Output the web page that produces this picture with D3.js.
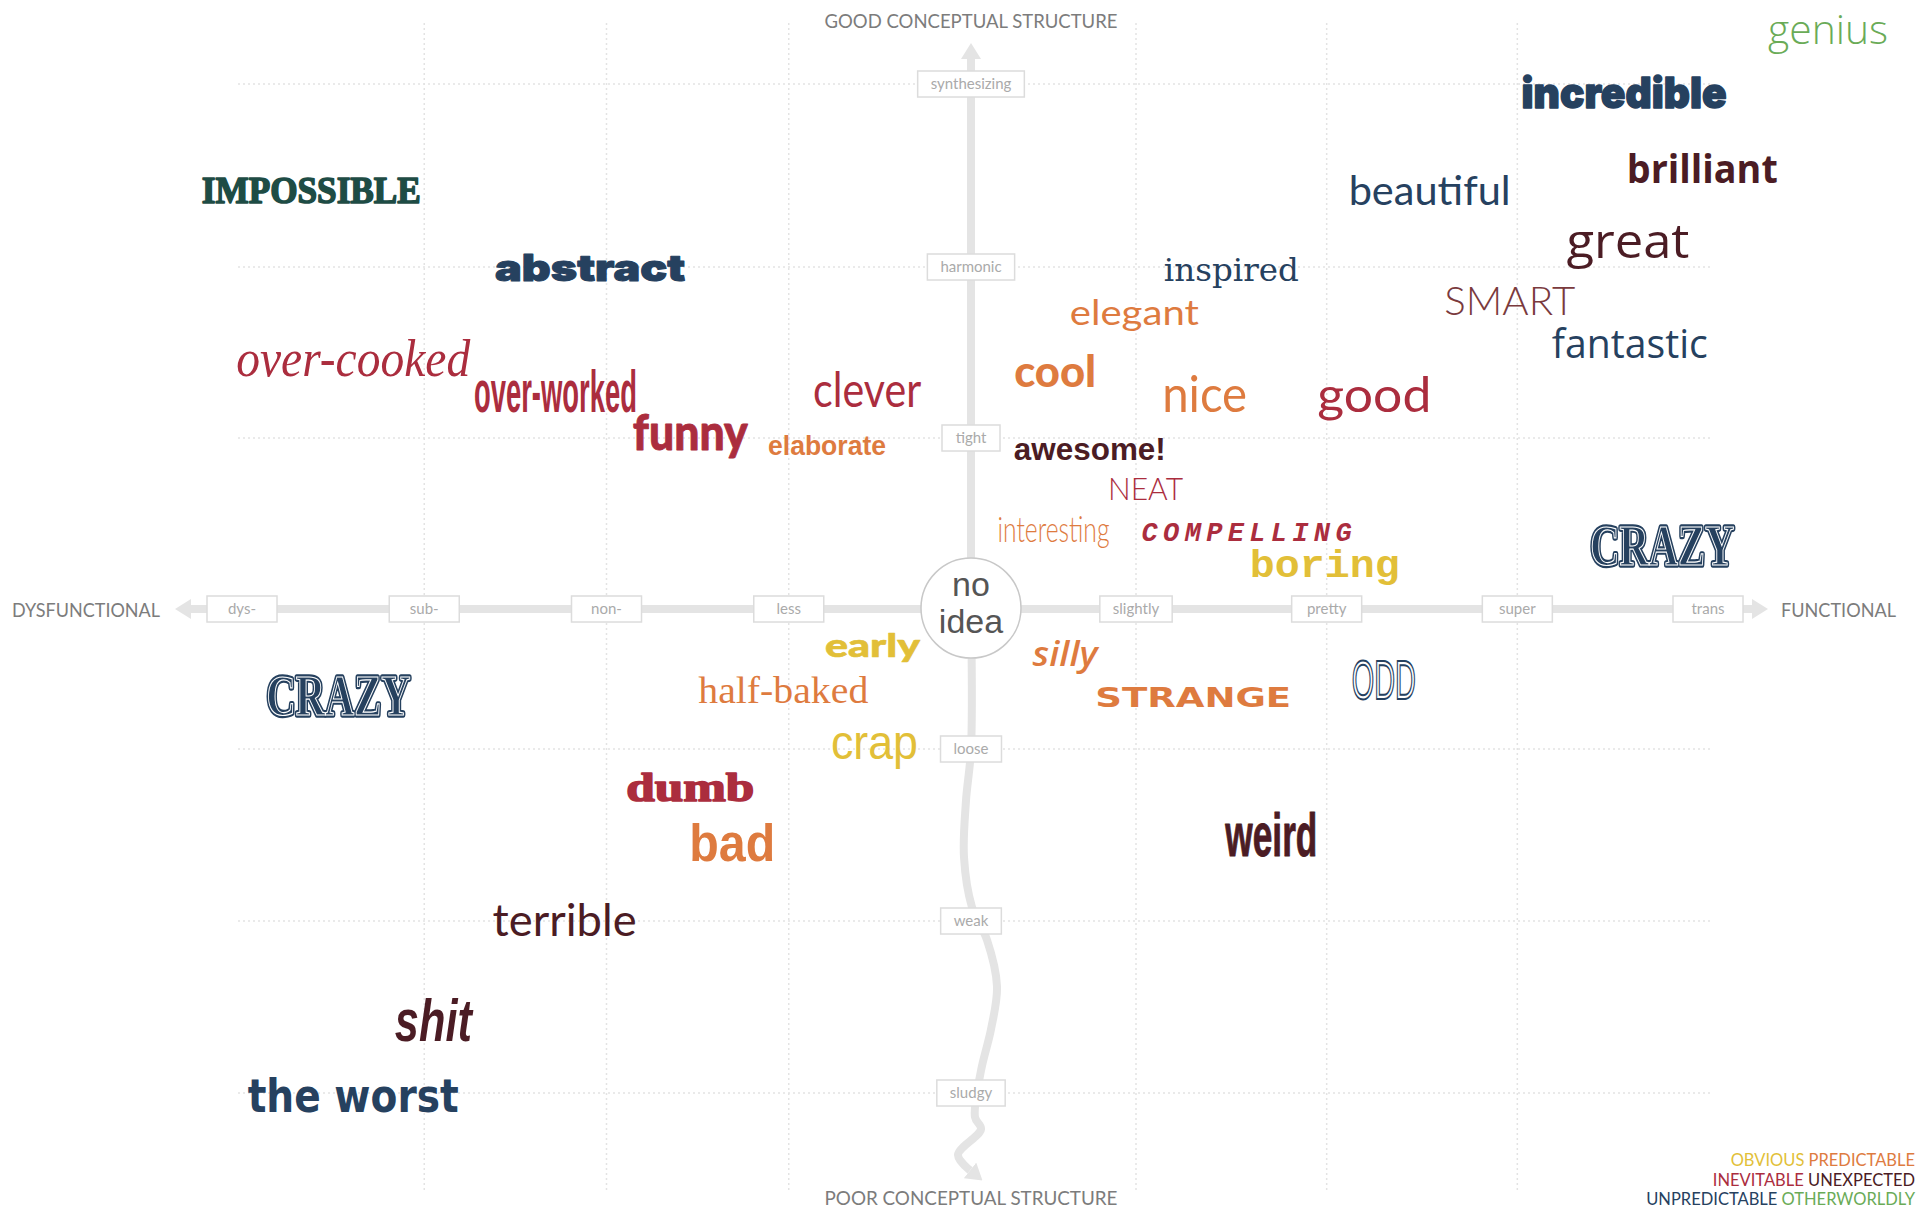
<!DOCTYPE html>
<html>
<head>
<meta charset="utf-8">
<script src="https://cdnjs.cloudflare.com/ajax/libs/d3/7.8.5/d3.min.js"></script>
<style>
  html, body { margin: 0; padding: 0; background: #fff; }
  svg { display: block; }
</style>
</head>
<body>
<svg id="chart"></svg>
<script>
/* ---------------------------------------------------
   Data
--------------------------------------------------- */

const words = ["genius", "incredible", "brilliant", "beautiful", "great", "SMART", "fantastic",
  "IMPOSSIBLE", "abstract", "inspired", "elegant", "over-cooked", "over-worked", "clever",
  "cool", "nice", "good", "funny", "elaborate", "awesome!", "NEAT", "interesting",
  "COMPELLING", "boring", "CRAZY", "CRAZY", "early", "silly", "half-baked", "STRANGE",
  "ODD", "crap", "dumb", "bad", "weird", "terrible", "shit", "the worst"];

// dysfunctional (-4) .. functional (+4)
const functionality = [4.63, 3.56, 3.97, 2.54, 3.58, 2.96, 3.59,
  -3.62, -2.09, 1.50, 0.99, -3.39, -2.28, -0.57,
  0.51, 1.36, 2.25, -1.54, -0.79, 0.72, 1.05, 0.50,
  1.58, 1.99, 3.76, -3.47, -0.54, 0.57, -1.03, 1.30,
  2.30, -0.53, -1.54, -1.31, 1.71, -2.23, -2.95, -3.39];

// poor (-3) .. good (+3) conceptual structure
const structure = [3.22, 2.87, 2.46, 2.34, 2.05, 1.72, 1.47,
  2.35, 1.92, 1.92, 1.66, 1.36, 1.15, 1.18,
  1.30, 1.15, 1.15, 0.93, 0.90, 0.87, 0.64, 0.39,
  0.40, 0.19, 0.26, -0.76, -0.34, -0.41, -0.67, -0.70,
  -0.64, -1.06, -1.30, -1.65, -1.62, -2.09, -2.70, -3.11];

const flavour = ["otherworldly", "unpredictable", "unexpected", "unpredictable", "unexpected", "unexpected", "unpredictable",
  "unpredictable", "unpredictable", "unpredictable", "predictable", "inevitable", "inevitable", "inevitable",
  "predictable", "predictable", "inevitable", "inevitable", "predictable", "unexpected", "inevitable", "predictable",
  "inevitable", "obvious", "unpredictable", "unpredictable", "obvious", "predictable", "predictable", "predictable",
  "unpredictable", "obvious", "inevitable", "predictable", "unexpected", "unexpected", "unexpected", "unpredictable"];

const flavours = ["obvious", "predictable", "inevitable", "unexpected", "unpredictable", "otherworldly"];
const legendRows = [["obvious", "predictable"], ["inevitable", "unexpected"], ["unpredictable", "otherworldly"]];

const xTickLabels = ["dys-", "sub-", "non-", "less", "slightly", "pretty", "super", "trans"];
const xTickValues = [-4, -3, -2, -1, 1, 2, 3, 4];
const yTickLabels = ["synthesizing", "harmonic", "tight", "loose", "weak", "sludgy"];
const yTickValues = [3, 2, 1, -1, -2, -3];

/* ---------------------------------------------------
   Styles
--------------------------------------------------- */

const colour = d3.scaleOrdinal()
  .domain(flavours)
  .range(["#e2bf38", "#de7b3f", "#ab2d3e", "#4b1c24", "#26415f", "#6aab57"]);

// every word has its own typeface in the original
const type = {
  "genius":      {font: "'Open Sans'", weight: 300, size: 40, width: 120},
  "incredible":  {font: "Inter, 'Liberation Sans'", weight: 900, size: 42, width: 205, heavy: 1.4},
  "brilliant":   {font: "'Open Sans'", weight: 700, size: 39, width: 151},
  "beautiful":   {font: "Lato", weight: 400, size: 41, width: 162},
  "great":       {font: "'Open Sans'", weight: 500, size: 48, width: 123},
  "SMART":       {font: "Lato", weight: 300, size: 40, width: 131, color: "#7a3a3d"},
  "fantastic":   {font: "'Open Sans'", weight: 400, size: 41, width: 156},
  "IMPOSSIBLE":  {font: "'Liberation Serif'", weight: 700, size: 38, width: 219, heavy: 1.6, color: "#1e4c45"},
  "abstract":    {font: "Inter, 'Liberation Sans'", weight: 900, size: 37, width: 190, heavy: 1},
  "inspired":    {font: "'DejaVu Serif'", weight: 400, size: 32, width: 135},
  "elegant":     {font: "Lato", weight: 400, size: 35, width: 129},
  "over-cooked": {font: "'Liberation Serif'", weight: 400, italic: true, size: 52, width: 234},
  "over-worked": {font: "'Liberation Sans Narrow', 'Liberation Sans'", weight: 700, size: 60, width: 163},
  "clever":      {font: "Lato", weight: 400, size: 48, width: 108},
  "cool":        {font: "Lato", weight: 900, size: 44, width: 82},
  "nice":        {font: "Lato", weight: 400, size: 50, width: 85},
  "good":        {font: "Lato", weight: 400, size: 48, width: 114},
  "funny":       {font: "Lato", weight: 900, size: 49, width: 115, heavy: 0.8},
  "elaborate":   {font: "'Liberation Sans'", weight: 700, size: 28, width: 118},
  "awesome!":    {font: "'Liberation Sans'", weight: 700, size: 31, width: 152},
  "NEAT":        {font: "Lato", weight: 300, size: 32, width: 75},
  "interesting": {font: "Lato", weight: 300, size: 36, width: 112},
  "COMPELLING":  {font: "'Liberation Mono'", weight: 700, italic: true, size: 27, width: 210, spread: true},
  "boring":      {font: "'Liberation Mono'", weight: 700, size: 38, width: 150},
  "CRAZY":       {font: "'Liberation Serif'", weight: 700, size: 58, width: 144, inline: true},
  "early":       {font: "Lato", weight: 900, size: 32, width: 95, heavy: 0.6},
  "silly":       {font: "'Open Sans'", weight: 600, italic: true, size: 35, width: 65},
  "half-baked":  {font: "'Liberation Serif'", weight: 400, size: 37, width: 170},
  "STRANGE":     {font: "'DejaVu Sans'", weight: 700, size: 26, width: 196},
  "ODD":         {font: "'Liberation Sans Narrow', 'Liberation Sans'", weight: 400, size: 56, width: 64, outline: true},
  "crap":        {font: "'Liberation Sans'", weight: 400, size: 48, width: 87},
  "dumb":        {font: "'Liberation Serif'", weight: 700, size: 40, width: 128, heavy: 1.6},
  "bad":         {font: "'Liberation Sans'", weight: 700, size: 51, width: 86},
  "weird":       {font: "'Liberation Sans Narrow', 'Liberation Sans'", weight: 700, size: 62, width: 92, heavy: 1},
  "terrible":    {font: "Lato", weight: 400, size: 44, width: 144},
  "shit":        {font: "'Liberation Sans'", weight: 700, italic: true, size: 60, width: 77},
  "the worst":   {font: "'DejaVu Sans'", weight: 700, size: 46, width: 211}
};

const axisGrey = "#e4e4e4";
const gridGrey = "#e3e3e3";

/* ---------------------------------------------------
   Setup
--------------------------------------------------- */

const width = 1921;
const height = 1211;

const svg = d3.select("#chart")
  .attr("width", width)
  .attr("height", height);

const x = d3.scaleLinear()
  .domain([-4, 0, 1, 4])
  .range([242, 971, 1136, 1708]);

const y = d3.scaleLinear()
  .domain([3, 2, 0, -1, -3])
  .range([84, 267, 609, 749, 1093]);

svg.append("defs").append("marker")
  .attr("id", "arrow")
  .attr("viewBox", "0 -10 16 20")
  .attr("refX", 0)
  .attr("refY", 0)
  .attr("markerWidth", 16)
  .attr("markerHeight", 20)
  .attr("markerUnits", "userSpaceOnUse")
  .attr("orient", "auto-start-reverse")
  .append("path")
  .attr("d", "M0,-10L16,0L0,10Z")
  .attr("fill", axisGrey);

/* ---------------------------------------------------
   Grid
--------------------------------------------------- */

const grid = svg.append("g")
  .attr("stroke", gridGrey)
  .attr("stroke-width", 1.5)
  .attr("stroke-dasharray", "2,3");

grid.selectAll("line.v")
  .data(xTickValues.filter(v => Math.abs(v) < 4))
  .join("line")
  .attr("class", "v")
  .attr("x1", d => x(d)).attr("x2", d => x(d))
  .attr("y1", 23).attr("y2", 1193);

grid.selectAll("line.h")
  .data(yTickValues)
  .join("line")
  .attr("class", "h")
  .attr("x1", x(-4) - 4).attr("x2", x(4) + 2)
  .attr("y1", d => y(d)).attr("y2", d => y(d));

/* ---------------------------------------------------
   Axes
--------------------------------------------------- */

const axes = svg.append("g")
  .attr("stroke", axisGrey)
  .attr("stroke-width", 8)
  .attr("fill", "none");

axes.append("line")
  .attr("x1", x(-4) - 51).attr("x2", x(4) + 44)
  .attr("y1", y(0)).attr("y2", y(0))
  .attr("marker-start", "url(#arrow)")
  .attr("marker-end", "url(#arrow)");

axes.append("line")
  .attr("x1", x(0)).attr("x2", x(0))
  .attr("y1", y(0)).attr("y2", 59)
  .attr("marker-end", "url(#arrow)");

// the lower half wanders off: [pixel offset from the axis, structure]
const tail = [[0, 0], [0, -1], [-5, -1.3], [-7, -1.63], [1, -1.92], [16, -2.11], [26, -2.38],
  [20, -2.63], [10, -2.87], [4, -3.14], [10, -3.21], [-13, -3.36], [-1, -3.45]];

axes.append("path")
  .attr("d", d3.line()
    .x(d => x(0) + d[0])
    .y(d => y(d[1]))
    .curve(d3.curveCatmullRom)(tail))
  .attr("marker-end", "url(#arrow)");

function tickBox(g, label, minW) {
  const t = g.append("text")
    .attr("text-anchor", "middle")
    .attr("dy", "0.35em")
    .style("font-family", "Lato")
    .style("font-size", "15px")
    .attr("fill", "#aaa")
    .text(label);
  const w = Math.max(minW, t.node().getComputedTextLength() + 26);
  g.insert("rect", "text")
    .attr("x", -w / 2).attr("y", -13)
    .attr("width", w).attr("height", 26)
    .attr("fill", "#fff")
    .attr("stroke", "#dcdcdc")
    .attr("stroke-width", 1.5);
}

xTickValues.forEach((v, i) => {
  tickBox(svg.append("g").attr("transform", `translate(${x(v)},${y(0)})`), xTickLabels[i], 70);
});
yTickValues.forEach((v, i) => {
  tickBox(svg.append("g").attr("transform", `translate(${x(0)},${y(v)})`), yTickLabels[i], 58);
});

const centre = svg.append("g").attr("transform", `translate(${x(0)},${y(0) - 1})`);
centre.append("circle")
  .attr("r", 50)
  .attr("fill", "#fff")
  .attr("stroke", "#c8c8c8")
  .attr("stroke-width", 1.5);
centre.selectAll("text")
  .data(["no", "idea"])
  .join("text")
  .attr("text-anchor", "middle")
  .attr("y", (d, i) => i ? 25 : -12)
  .style("font-family", "'Liberation Sans'")
  .style("font-size", "34px")
  .attr("fill", "#555")
  .text(d => d);

/* ---------------------------------------------------
   Axis titles
--------------------------------------------------- */

const titles = [
  {text: "GOOD CONCEPTUAL STRUCTURE", x: x(0), y: 28, anchor: "middle", w: 293},
  {text: "POOR CONCEPTUAL STRUCTURE", x: x(0), y: 1205, anchor: "middle", w: 293},
  {text: "DYSFUNCTIONAL", x: 12, y: y(0) + 8, anchor: "start", w: 148},
  {text: "FUNCTIONAL", x: 1781, y: y(0) + 8, anchor: "start", w: 115}
];

svg.append("g")
  .selectAll("text")
  .data(titles)
  .join("text")
  .attr("x", d => d.x)
  .attr("y", d => d.y)
  .attr("text-anchor", d => d.anchor)
  .attr("textLength", d => d.w)
  .attr("lengthAdjust", "spacingAndGlyphs")
  .style("font-family", "Lato")
  .style("font-size", "20px")
  .attr("fill", "#7c7c7c")
  .text(d => d.text);

/* ---------------------------------------------------
   Words
--------------------------------------------------- */

const wordData = words.map((w, i) => ({
  word: w, fx: functionality[i], sy: structure[i], flavour: flavour[i]
}));

const wordG = svg.append("g");

function wordText(d, t) {
  return wordG.append("text")
    .attr("x", x(d.fx))
    .attr("y", y(d.sy))
    .attr("text-anchor", "middle")
    .attr("textLength", t.width)
    .attr("lengthAdjust", t.spread ? "spacing" : "spacingAndGlyphs")
    .style("font-family", t.font)
    .style("font-weight", t.weight)
    .style("font-style", t.italic ? "italic" : "normal")
    .style("font-size", t.size + "px")
    .text(d.word);
}

wordData.forEach(d => {
  const t = type[d.word];
  const c = t.color || colour(d.flavour);

  if (t.inline) {
    wordText(d, t).attr("fill", c).attr("stroke", c).attr("stroke-width", 5.5).attr("stroke-linejoin", "round");
    wordText(d, t).attr("fill", "none").attr("stroke", "#fff").attr("stroke-width", 1.2);
  } else if (t.outline) {
    wordText(d, t).attr("fill", "#fff").attr("stroke", c).attr("stroke-width", 2);
  } else {
    const txt = wordText(d, t).attr("fill", c);
    if (t.heavy) txt.attr("stroke", c).attr("stroke-width", t.heavy).attr("stroke-linejoin", "round");
  }
});

/* ---------------------------------------------------
   Legend
--------------------------------------------------- */

const legend = svg.append("g")
  .selectAll("text")
  .data(legendRows)
  .join("text")
  .attr("x", 1915)
  .attr("y", (d, i) => 1166 + i * 19.5)
  .attr("text-anchor", "end")
  .style("font-family", "Lato")
  .style("font-size", "16.5px");

legend.selectAll("tspan")
  .data(d => d)
  .join("tspan")
  .attr("fill", d => colour(d))
  .text((d, i) => (i ? " " : "") + d.toUpperCase());
</script>
</body>
</html>
